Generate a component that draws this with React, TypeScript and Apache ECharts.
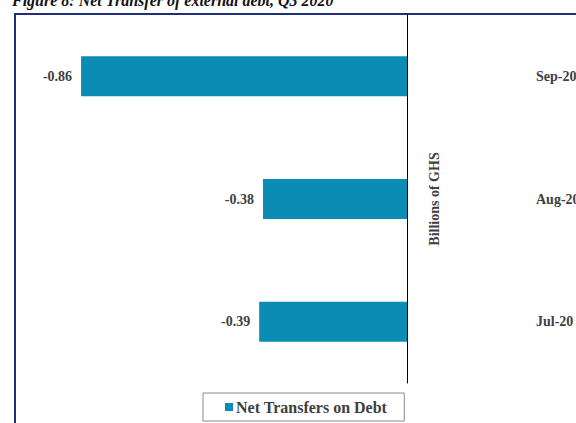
import React, { useEffect, useRef } from "react";
import * as echarts from "echarts";

const categories = ["Jul-20", "Aug-20", "Sep-20"];
const netTransfers = [-0.39, -0.38, -0.86];
const seriesName = "Net Transfers on Debt";
const axisTitle = "Billions of GHS";
const figureTitle = "Figure 8: Net Transfer of external debt, Q3 2020";

const SERIF = "Liberation Serif, DejaVu Serif, serif";

export default function App() {
  const ref = useRef<HTMLDivElement>(null);
  useEffect(() => {
    if (!ref.current) return;
    const chart = echarts.init(ref.current, undefined, { renderer: "svg" });
    chart.setOption({
      animation: false,
      backgroundColor: "#ffffff",
      graphic: [
        {
          type: "text",
          x: 12,
          y: 8,
          style: {
            text: figureTitle,
            fontFamily: SERIF,
            fontStyle: "italic",
            fontWeight: "bold",
            fontSize: 16,
            verticalAlign: "bottom",
            fill: "#111111",
          },
          z: 10,
        },
        {
          type: "rect",
          shape: { x: 15, y: 14, width: 700, height: 500 },
          style: { fill: "none", stroke: "#1f2f7a", lineWidth: 2 },
          silent: true,
          z: 0,
        },
      ],
      grid: { left: 28, right: 169, top: 15, bottom: 40, containLabel: false, outerBoundsMode: "none" },
      legend: {
        data: [seriesName],
        left: 203,
        top: 393,
        padding: [6, 17, 6, 22],
        borderColor: "#8a8a8a",
        borderWidth: 1,
        icon: "rect",
        itemWidth: 8,
        itemHeight: 8,
        itemGap: 3,
        textStyle: {
          fontFamily: SERIF,
          fontWeight: "bold",
          fontSize: 16,
          color: "#404040",
          padding: [0, 0, 0, -2],
        },
      },
      xAxis: {
        type: "value",
        min: -1,
        max: 0,
        show: false,
      },
      yAxis: {
        type: "category",
        data: categories,
        position: "right",
        axisLine: { show: true, lineStyle: { color: "#000000", width: 1 } },
        axisTick: { show: false },
        axisLabel: {
          margin: 129,
          fontFamily: SERIF,
          fontWeight: "bold",
          fontSize: 14,
          color: "#404040",
        },
        name: axisTitle,
        nameLocation: "middle",
        nameRotate: 90,
        nameGap: 20,
        nameMoveOverlap: false,
        nameTextStyle: {
          fontFamily: SERIF,
          fontWeight: "bold",
          fontSize: 14,
          color: "#404040",
        },
        splitLine: { show: false },
      },
      series: [
        {
          name: seriesName,
          type: "bar",
          data: netTransfers,
          barWidth: 40,
          itemStyle: { color: "#0a8cb4" },
          label: {
            show: true,
            position: "left",
            distance: 9,
            formatter: (p: any) => Number(p.value).toFixed(2),
            fontFamily: SERIF,
            fontWeight: "bold",
            fontSize: 14,
            color: "#404040",
          },
        },
      ],
    });
    return () => chart.dispose();
  }, []);
  return <div ref={ref} style={{ width: 576, height: 423, position: "absolute", left: 0, top: 0 }} />;
}
